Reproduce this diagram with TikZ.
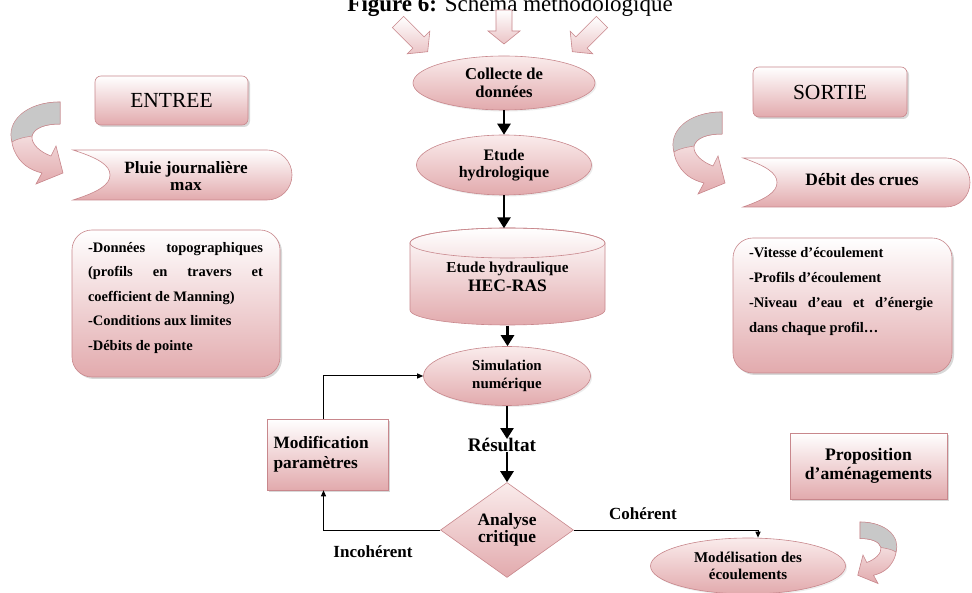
\documentclass[tikz,border=0pt]{standalone}
\usepackage{fontspec}
\setmainfont{Liberation Serif}
\usetikzlibrary{shapes.geometric, arrows.meta, shadows, calc}
\definecolor{pinkB}{RGB}{226,170,173}
\definecolor{pinkL}{RGB}{250,236,236}
\definecolor{pinkD}{RGB}{200,135,140}
\definecolor{grayA}{RGB}{200,200,200}
\newcommand{\fs}[2]{\fontsize{#1}{#2}\selectfont}
\newcommand{\curvarr}{%
  \shade[gshade] (60,102) .. controls (25,102) and (4,124) .. (14,150) .. controls (20,164) and (30,170) .. (42,173) -- (36,184) -- (63,173) -- (56,146) -- (51,156) .. controls (40,152) and (31,144) .. (32,136) .. controls (34,128) and (45,124) .. (60,124) -- cycle;
  \filldraw[fill=grayA, draw=pinkD, line width=0.5pt] (60,102) .. controls (25,102) and (6,122) .. (12,142) .. controls (18,138) and (27,137) .. (32,136) .. controls (34,128) and (45,124) .. (60,124) -- cycle;
}
\newcommand{\blockarr}[1]{%
  \shade[bshade] (-8,0) -- (8,0) -- (8,{#1-13}) -- (16,{#1-13}) -- (0,#1) -- (-16,{#1-13}) -- (-8,{#1-13}) -- cycle;
}
\begin{document}
\begin{tikzpicture}[x=1pt,y=-1pt,
  every node/.style={inner sep=0pt, align=center, font=\bfseries},
  gshade/.style={top color=white, bottom color=pinkB, draw=pinkD, line width=0.6pt},
  bshade/.style={top color=white, bottom color=pinkB!70, draw=pinkD, line width=0.6pt},
  eshade/.style={top color=pinkL, bottom color=pinkB, draw=pinkD, line width=0.6pt},
  ellbox/.style={ellipse, eshade, drop shadow={opacity=0.15, shadow xshift=1.5pt, shadow yshift=-1.5pt}},
  recbox/.style={rectangle, gshade, drop shadow={opacity=0.3, shadow xshift=2pt, shadow yshift=-2pt}},
  flowarrow/.style={line width=2.6pt, -{Triangle[width=13pt,length=11pt]}},
  thinarrow/.style={line width=1pt, -{Triangle[width=5pt,length=6pt]}},
  lbl/.style={font=\fs{17}{18}\bfseries},
]
\fill[white] (0,0) rectangle (972,593);
\useasboundingbox (0,0) rectangle (972,593);

% title (cut by the page edge, as in the reference)
\node[anchor=base east, font=\fs{23}{23}] (title) at (673,12) {\textbf{Figure 6:} \mdseries Schéma méthodologique};

% top block arrows
\begin{scope}[shift={(504,10)}] \blockarr{34} \end{scope}
\begin{scope}[shift={(398,22)}, rotate=45] \blockarr{42} \end{scope}
\begin{scope}[shift={(602,22)}, rotate=-45] \blockarr{42} \end{scope}

% central column
\node[ellbox, minimum width=182, minimum height=54, font=\fs{16.6}{17.5}\bfseries] (col) at (504,83) {Collecte de\\données};
\node[ellbox, minimum width=175, minimum height=60, font=\fs{16}{17.5}\bfseries] (hyd) at (504,165) {Etude\\hydrologique};

\shade[gshade] (410,243) -- (410,310) .. controls (410,318.3) and (453.7,325) .. (507.5,325) .. controls (561.3,325) and (605,318.3) .. (605,310) -- (605,243) .. controls (605,234.7) and (561.3,228) .. (507.5,228) .. controls (453.7,228) and (410,234.7) .. (410,243) -- cycle;
\draw[pinkD, line width=0.6pt] (507.5,243) ellipse [x radius=97.5, y radius=15];
\node[minimum width=195, minimum height=97, font=\fs{15.2}{18.5}\bfseries] (cyl) at (507.5,277) {Etude hydraulique\\{\fs{17.5}{19}\bfseries HEC-RAS}};

\node[ellbox, minimum width=167, minimum height=59, font=\fs{14.9}{17.5}\bfseries] (sim) at (507,376) {Simulation\\numérique};
\node[font=\fs{19.2}{20}\bfseries] (res) at (502,445) {Résultat};
\node[diamond, eshade, minimum width=133, minimum height=95, font=\fs{17.4}{17.5}\bfseries] (dia) at (507,530) {Analyse\\critique};

\node[recbox, minimum width=121, minimum height=71, text width=108pt, align=left, font=\fs{17.3}{20}\bfseries] (modp) at (327.5,454.5) {Modification\\paramètres};
\node[ellbox, minimum width=195, minimum height=56, font=\fs{15}{17}\bfseries] (mode) at (748,566) {Modélisation des\\écoulements};
\node[recbox, minimum width=157, minimum height=66, font=\fs{17.6}{18.5}\bfseries] (prop) at (868.5,466) {Proposition\\d’aménagements};

% connectors
\draw[flowarrow] (col.south) -- (col.south |- hyd.north);
\draw[flowarrow] (hyd.south) -- (hyd.south |- cyl.north);
\draw[flowarrow] (cyl.south) -- (cyl.south |- sim.north);
\draw[flowarrow] (sim.south) -- ([yshift=-1pt]sim.south |- res.north);
\draw[flowarrow] (sim.south |- res.south) -- (sim.south |- dia.north);
\draw[thinarrow] (dia.east) -| ([xshift=10pt]mode.north);
\draw[thinarrow] (dia.west) -| ([xshift=-4pt]modp.south);
\draw[thinarrow] ([xshift=-4pt]modp.north) |- (sim.west);
\node[lbl] (coh) at (643,514) {Cohérent};
\node[lbl] (inc) at (373,552) {Incohérent};

% ENTREE side
\node[recbox, rounded corners=6pt, minimum width=153, minimum height=49, font=\fs{21.5}{21}\mdseries] (entree) at (171.5,100.5) {ENTREE};
\curvarr
\shade[gshade] (73,150) .. controls (98,158) and (110,165) .. (110,175) .. controls (110,185) and (98,192) .. (73,200) -- (267,200) .. controls (280.8,200) and (292,188.8) .. (292,175) .. controls (292,161.2) and (280.8,150) .. (267,150) -- cycle;
\node[font=\fs{17.2}{17.5}\bfseries] (pluie) at (186,176) {Pluie journalière\\max};
\node[recbox, rounded corners=20pt, minimum width=208, minimum height=147] (lbox) at (176,303.5) {};
\node (ltext) at (175.5,298) {\begin{minipage}{175pt}\fs{14.5}{24.5}\bfseries
\hbox to \linewidth{-Données\hfill topographiques}
\hbox to \linewidth{(profils\hfill en\hfill travers\hfill et}
\hbox to \linewidth{coefficient de Manning)\hfil}
\hbox to \linewidth{-Conditions aux limites\hfil}
\hbox to \linewidth{-Débits de pointe\hfil}
\end{minipage}};

% SORTIE side
\node[recbox, rounded corners=6pt, minimum width=154, minimum height=50, font=\fs{21.5}{21}\mdseries] (sortie) at (830,92) {SORTIE};
\begin{scope}[shift={(662,10)}] \curvarr \end{scope}
\shade[gshade] (743,158) .. controls (766,166) and (777,173) .. (777,182.5) .. controls (777,192) and (766,199) .. (743,207) -- (946,207) .. controls (959.5,207) and (970,196) .. (970,182.5) .. controls (970,169) and (959.5,158) .. (946,158) -- cycle;
\node[font=\fs{17.4}{18}\bfseries] (debit) at (862,180) {Débit des crues};
\node[recbox, rounded corners=20pt, minimum width=219, minimum height=135] (rbox) at (842.5,305.5) {};
\node (rtext) at (841,291.5) {\begin{minipage}{184pt}\fs{14.5}{25}\bfseries
\hbox to \linewidth{-Vitesse d’écoulement\hfil}
\hbox to \linewidth{-Profils d’écoulement\hfil}
\hbox to \linewidth{-Niveau\hfill d’eau\hfill et\hfill d’énergie}
\hbox to \linewidth{dans chaque profil…\hfil}
\end{minipage}};

% bottom right curved arrow
\begin{scope}[shift={(905,445.5)}, xscale=-0.75, yscale=0.75] \curvarr \end{scope}
\end{tikzpicture}
\end{document}
